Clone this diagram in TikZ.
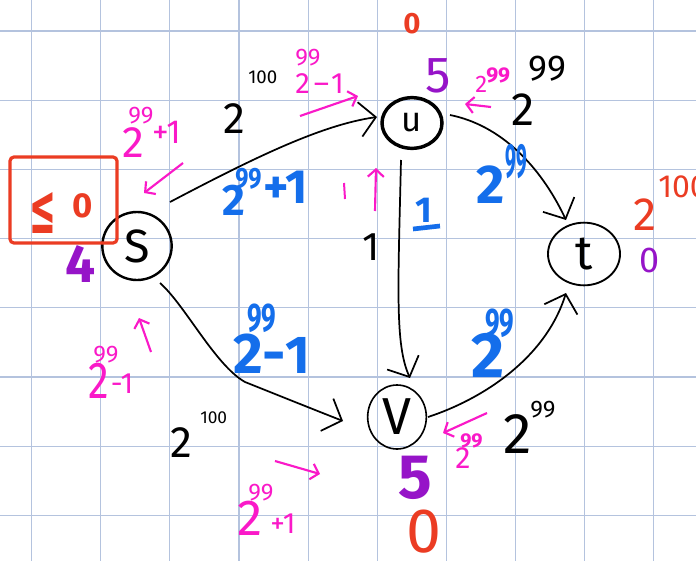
\documentclass[tikz,border=0pt]{standalone}
\usepackage{graphicx}
\usepackage{fontspec}
\setmainfont{Fira Sans}
\newfontfamily\dejavu{DejaVu Sans}
\usetikzlibrary{arrows.meta,shapes.geometric,calc}
\newdimen\px \px=0.75pt
\newcommand\hs[1]{\fontsize{#1}{#1}\selectfont}
\newcommand\pw[4]{\rlap{\hspace*{#1\px}\raisebox{#2\px}{\hs{#3}#4}}}
\definecolor{hmag}{RGB}{250,25,200}
\definecolor{hblue}{RGB}{20,110,235}
\definecolor{hred}{RGB}{235,60,35}
\definecolor{hpurple}{RGB}{150,20,200}
\definecolor{gridc}{RGB}{180,195,222}
\tikzset{
  lab/.style={anchor=base west, inner sep=0pt},
  vert/.style={draw, ellipse, inner sep=0pt, line width=1.4pt},
  edge/.style={line width=1.3pt, -{Straight Barb[length=12pt,width=26pt]}},
  marr/.style={hmag, line width=1.6pt, -{Straight Barb[length=5.5pt,width=12pt]}}
}
\begin{document}
\begin{tikzpicture}[x=0.75pt,y=-0.75pt]
\fill[white] (0,0) rectangle (696,561);
\useasboundingbox (0,0) rectangle (696,561);
% grid
\foreach \i in {0,...,9} \draw[gridc, line width=0.8pt] ({31.7+69.1*\i},0) -- ++(0,561);
\foreach \j in {0,...,7} \draw[gridc, line width=0.8pt] (0,{31+69.2*\j}) -- ++(696,0);
% vertices
\node[vert, minimum width=52pt, minimum height=51pt, line width=1.8pt] (s) at (137,246) {\hs{35}S};
\node[vert, minimum width=45pt, minimum height=38pt, line width=2.6pt] (u) at (412,123) {\hs{26}u};
\node[vert, minimum width=54pt, minimum height=47pt] (t) at (584,254) {\hs{36}t};
\node[vert, minimum width=44pt, minimum height=48pt, line width=1.2pt] (v) at (397,417) {\hs{39}V};
% edges
\draw[edge] ($(s)+(33,-44)$) .. controls (250,160) and (320,125) .. ($(u)+(-35,-6)$);
\draw[edge] ($(u)+(38,-8)$) .. controls (500,125) and (540,165) .. ($(t)+(-18,-34)$);
\draw[edge] ($(u)+(-11,37)$) .. controls (398,290) and (395,345) .. ($(v)+(13,-39)$);
\draw[edge] ($(s)+(23,37)$) .. controls (185,305) and (215,365) .. (245,382) .. controls (285,398) and (320,412) .. ($(v)+(-54,4)$);
\draw[edge] ($(v)+(31,0)$) .. controls (480,400) and (545,360) .. ($(t)+(-18,39)$);
% red box
\draw[hred, line width=2.4pt, rounded corners=3pt] (10,157) rectangle (117,243);
% magenta arrows
\coordinate (m1a) at (300,116); \coordinate (m1b) at (358,96);
\coordinate (m2a) at (183,163); \coordinate (m2b) at (144,193);
\coordinate (m3a) at (491,107); \coordinate (m3b) at (465,104);
\coordinate (m4a) at (375,211); \coordinate (m4b) at (376,168);
\coordinate (m5a) at (151,352); \coordinate (m5b) at (139,318);
\coordinate (m6a) at (275,461); \coordinate (m6b) at (320,474);
\coordinate (m7a) at (487,413); \coordinate (m7b) at (443,433);
\draw[marr] (m1a) -- (m1b);
\draw[marr] (m2a) -- (m2b);
\draw[marr] (m3a) -- (m3b);
\draw[marr] (m4a) -- (m4b);
\draw[marr] (m5a) -- (m5b);
\draw[marr] (m6a) -- (m6b);
\draw[marr] (m7a) -- (m7b);
\draw[hmag, line width=1.5pt] (344,183) -- (345,199);
% labels
\node[lab, black] (l1) at (223,133) {\hs{33}\pw{25}{50}{14}{100}2};
\node[lab, hmag] (l2) at (295,93) {\hs{22}\pw{0}{28}{18}{99}2\hspace*{4\px}–\hspace*{2\px}1};
\node[lab, hblue, font=\bfseries] (l3) at (222,215) {\hs{33}\pw{13}{27}{22}{\scalebox{0.8}[1]{99}}2\hspace*{18\px}\raisebox{12\px}{\hs{36}+1}};
\node[lab, hmag] (l4) at (122,157) {\hs{33}\pw{6}{34}{18}{99}2\hspace*{8\px}\raisebox{14\px}{\hs{25}+1}};
\node[lab, hred] (l5) at (29,233) {\hs{24}\scalebox{1}[2.2]{\dejavu\bfseries ≤}\hspace*{16\px}\raisebox{16\px}{\hs{26}\bfseries 0}};
\node[lab, hpurple, font=\bfseries] (l6) at (65,282) {\hs{40}4};
\node[lab, hred, font=\bfseries] (l7) at (403,33) {\hs{22}0};
\node[lab, hpurple] (l8) at (425,92) {\hs{38}5};
\node[lab, hmag] (l9) at (475,92) {\hs{18}\pw{11}{10}{16}{\bfseries 99}2};
\node[lab, black] (l10) at (511,125) {\hs{35}\pw{17}{45}{27}{99}2};
\node[lab, hblue, font=\bfseries] (l11) at (476,203) {\hs{41}\pw{29}{26}{36}{\scalebox{0.4}[1]{99}}2};
\node[lab, hred] (l12) at (633,230) {\hs{35}\pw{25}{33}{24}{100}2};
\node[lab, hpurple] (l13) at (639,272) {\hs{27}0};
\node[lab, black] (l14) at (362,260) {\hs{30}1};
\node[lab, hblue, font=\bfseries] (l15) at (415,222) {\hs{27}1};
\draw[hblue, line width=3.5pt] (413,229) -- (440,226);
\node[lab, hmag] (l16) at (88,398) {\hs{39}\pw{5}{36}{18}{99}\scalebox{0.8}[1]{2}\hspace*{2\px}\raisebox{5\px}{\hs{22}-1}};
\node[lab, hblue, font=\bfseries] (l17) at (233,373) {\hs{43}\pw{14}{42}{30}{\scalebox{0.65}[1]{99}}2-\hs{40}1};
\node[lab, black] (l18) at (170,457) {\hs{33}\pw{30}{34}{13}{100}2};
\node[lab, hmag] (l19) at (237,535) {\hs{38}\pw{11}{35}{18}{99}2\hspace*{8\px}\raisebox{2\px}{\hs{22}+1}};
\node[lab, hblue, font=\bfseries] (l20) at (471,377) {\hs{48}\pw{14}{41}{30}{\scalebox{0.65}[1]{99}}2};
\node[lab, black] (l21) at (503,453) {\hs{43}\pw{27}{36}{18}{99}2};
\node[lab, hmag] (l22) at (455,468) {\hs{23}\pw{5}{21}{15}{\bfseries 99}2};
\node[lab, hpurple, font=\bfseries] (l23) at (398,498) {\hs{47}5};
\node[lab, hred] (l24) at (406,552) {\hs{47}0};
\end{tikzpicture}
\end{document}
